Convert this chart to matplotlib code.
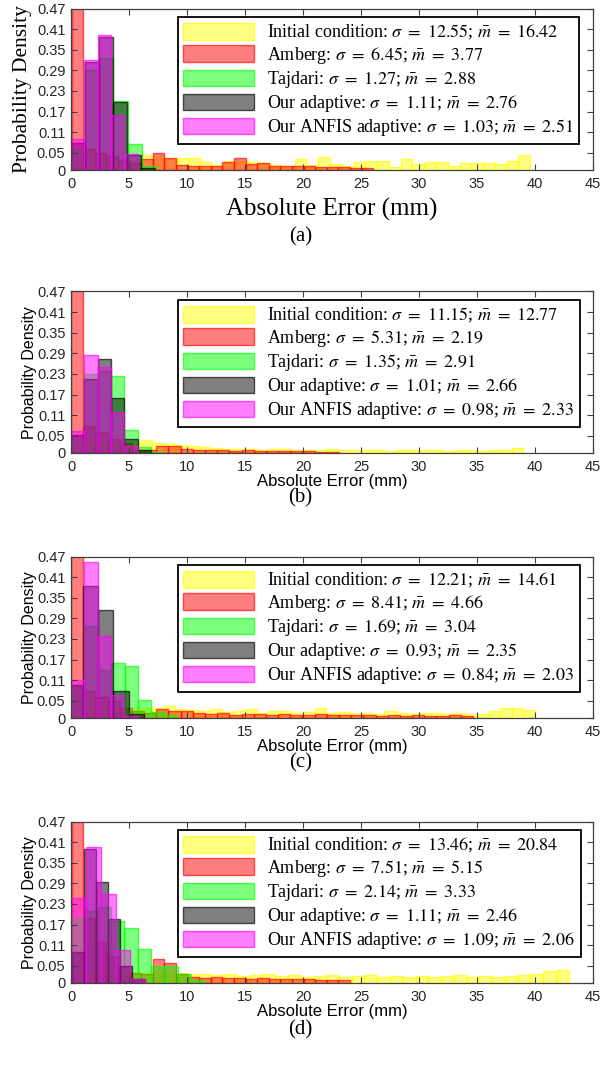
import numpy as np
import matplotlib
matplotlib.use("Agg")
import matplotlib.pyplot as plt

plt.rcParams['mathtext.fontset'] = 'stix'

# series order: Initial (yellow), Amberg (red), Tajdari (green), Our adaptive (black), ANFIS (magenta)
names = ['Initial condition', 'Amberg', 'Tajdari', 'Our adaptive', 'Our ANFIS adaptive']
colors = ['#ffff00', '#ff0000', '#00ff00', '#000000', '#ff00ff']

# sigma / mean per panel
sigmas_a = [12.55, 6.45, 1.27, 1.11, 1.03]
means_a = [16.42, 3.77, 2.88, 2.76, 2.51]
sigmas_b = [11.15, 5.31, 1.35, 1.01, 0.98]
means_b = [12.77, 2.19, 2.91, 2.66, 2.33]
sigmas_c = [12.21, 8.41, 1.69, 0.93, 0.84]
means_c = [14.61, 4.66, 3.04, 2.35, 2.03]
sigmas_d = [13.46, 7.51, 2.14, 1.11, 1.09]
means_d = [20.84, 5.15, 3.33, 2.46, 2.06]

# histogram bins (first edge, bin width) for each series
bins_a = [(0.0, 1.015), (0.05, 1.0), (0.0, 1.22), (0.0, 1.2), (0.0, 1.15)]
bins_b = [(0.0, 1.0), (0.0, 1.05), (0.0, 1.15), (0.0, 1.15), (0.0, 1.15)]
bins_c = [(0.0, 1.0), (0.0, 1.05), (0.1, 1.13), (-0.24, 1.3), (0.0, 1.15)]
bins_d = [(0.0, 1.1), (0.05, 1.0), (0.0, 1.15), (0.05, 1.05), (0.0, 1.28)]

# probability density per bin
yellow_a = [0.02, 0.03, 0.03, 0.03, 0.03, 0.03, 0.044, 0.04, 0.032, 0.035,
            0.034, 0.022, 0.015, 0.027, 0.027, 0.024, 0.019, 0.015, 0.013, 0.032,
            0.015, 0.037, 0.017, 0.013, 0.022, 0.025, 0.025, 0.008, 0.032, 0.017,
            0.022, 0.024, 0.013, 0.019, 0.02, 0.02, 0.017, 0.027, 0.043]
red_a = [0.52, 0.06, 0.05, 0.04, 0.03, 0.02, 0.032, 0.049, 0.035, 0.015,
         0.011, 0.013, 0.011, 0.022, 0.035, 0.017, 0.019, 0.011, 0.013, 0.013,
         0.011, 0.009, 0.009, 0.008, 0.006, 0.006]
green_a = [0.06, 0.29, 0.327, 0.2, 0.075, 0.011]
black_a = [0.08, 0.315, 0.388, 0.199, 0.045, 0.005]
magenta_a = [0.089, 0.32, 0.392, 0.16, 0.046]

yellow_b = [0.02, 0.03, 0.03, 0.03, 0.03, 0.03, 0.037, 0.03, 0.025, 0.022,
            0.02, 0.018, 0.015, 0.013, 0.012, 0.012, 0.01, 0.012, 0.011, 0.01,
            0.009, 0.01, 0.012, 0.01, 0.008, 0.008, 0.009, 0.007, 0.008, 0.01,
            0.009, 0.008, 0.007, 0.009, 0.008, 0.007, 0.008, 0.009, 0.015]
red_b = [0.52, 0.08, 0.06, 0.04, 0.03, 0.01, 0.008, 0.021, 0.019, 0.012,
         0.01, 0.008, 0.009, 0.007, 0.008, 0.006, 0.007, 0.006, 0.005, 0.006,
         0.004, 0.004]
green_b = [0.04, 0.23, 0.24, 0.223, 0.066, 0.017, 0.004]
black_b = [0.053, 0.215, 0.273, 0.16, 0.041, 0.008]
magenta_b = [0.065, 0.286, 0.25, 0.118, 0.019]

yellow_c = [0.03, 0.03, 0.03, 0.03, 0.03, 0.03, 0.03, 0.03, 0.036, 0.025,
            0.022, 0.02, 0.025, 0.018, 0.02, 0.025, 0.015, 0.02, 0.02, 0.015,
            0.018, 0.028, 0.015, 0.018, 0.014, 0.016, 0.012, 0.02, 0.015, 0.013,
            0.015, 0.016, 0.012, 0.014, 0.013, 0.012, 0.02, 0.03, 0.028, 0.022]
red_c = [0.52, 0.08, 0.06, 0.05, 0.03, 0.02, 0.015, 0.026, 0.021, 0.019,
         0.015, 0.012, 0.014, 0.01, 0.012, 0.011, 0.009, 0.012, 0.01, 0.009,
         0.011, 0.008, 0.01, 0.009, 0.008, 0.007, 0.009, 0.006, 0.008, 0.007,
         0.006, 0.008, 0.005]
green_c = [0.09, 0.268, 0.14, 0.16, 0.152, 0.051, 0.017, 0.01]
black_c = [0.097, 0.383, 0.315, 0.078, 0.012]
magenta_c = [0.11, 0.453, 0.24, 0.068, 0.005]

yellow_d = [0.03, 0.03, 0.03, 0.03, 0.03, 0.03, 0.03, 0.03, 0.028, 0.027,
            0.025, 0.022, 0.025, 0.02, 0.022, 0.025, 0.02, 0.022, 0.018, 0.02,
            0.022, 0.018, 0.02, 0.022, 0.018, 0.02, 0.017, 0.02, 0.018, 0.02,
            0.022, 0.018, 0.02, 0.018, 0.02, 0.022, 0.025, 0.035, 0.038]
red_d = [0.52, 0.19, 0.12, 0.08, 0.05, 0.03, 0.025, 0.071, 0.059, 0.027,
         0.018, 0.015, 0.017, 0.014, 0.016, 0.013, 0.015, 0.012, 0.012, 0.011,
         0.012, 0.01, 0.009, 0.008]
green_d = [0.19, 0.21, 0.22, 0.18, 0.161, 0.1, 0.05, 0.05, 0.025, 0.01]
black_d = [0.09, 0.391, 0.294, 0.187, 0.049, 0.011]
magenta_d = [0.247, 0.396, 0.259, 0.096, 0.013]

xticks = [0, 5, 10, 15, 20, 25, 30, 35, 40, 45]
yticks = [0, 0.05, 0.11, 0.17, 0.23, 0.29, 0.35, 0.41, 0.47]
ytick_labels = ['0', '0.05', '0.11', '0.17', '0.23', '0.29', '0.35', '0.41', '0.47']

panels = [
    ('(a)', [yellow_a, red_a, green_a, black_a, magenta_a], bins_a, sigmas_a, means_a, 170, True),
    ('(b)', [yellow_b, red_b, green_b, black_b, magenta_b], bins_b, sigmas_b, means_b, 453, False),
    ('(c)', [yellow_c, red_c, green_c, black_c, magenta_c], bins_c, sigmas_c, means_c, 718, False),
    ('(d)', [yellow_d, red_d, green_d, black_d, magenta_d], bins_d, sigmas_d, means_d, 983, False),
]
caption_y = [237, 498, 763, 1030]

W, H = 601, 1070
fig = plt.figure(figsize=(W / 100, H / 100), dpi=100)
fig.patch.set_facecolor('white')

for k, (tag, series, bins, sig, mu, ybot, serif_labels) in enumerate(panels):
    ax = fig.add_axes([71 / W, 1 - ybot / H, 522 / W, 161.5 / H])
    for vals, (x0, bw), col, name, s, m in zip(series, bins, colors, names, sig, mu):
        edges = x0 + bw * np.arange(len(vals))
        rgb = matplotlib.colors.to_rgb(col)
        ax.bar(edges, vals, width=bw, align='edge',
               facecolor=(*rgb, 0.5), edgecolor=(*rgb, 0.65), linewidth=1.0,
               label=rf'{name}: $\sigma\ =\ {s:.2f}$; $\bar{{m}}\ =\ {m:.2f}$')

    ax.set_xlim(0, 45)
    ax.set_ylim(0, 0.47)
    ax.set_xticks(xticks)
    ax.set_yticks(yticks)
    ax.set_yticklabels(ytick_labels)
    ax.tick_params(direction='in', top=True, right=True, length=4, width=0.8,
                   color='#404040', labelsize=10.5, labelcolor='#262626')
    ax.tick_params(axis='x', pad=5)
    ax.tick_params(axis='y', pad=4)
    for lab in ax.get_xticklabels() + ax.get_yticklabels():
        lab.set_family('Liberation Sans')
    for sp in ax.spines.values():
        sp.set_color('#404040')
        sp.set_linewidth(0.9)

    if serif_labels:
        ax.set_xlabel('Absolute Error (mm)', family='Liberation Serif', fontsize=18)
        ax.set_ylabel('Probability Density', family='Liberation Serif', fontsize=15.5)
        ax.xaxis.set_label_coords(0.5, -0.17)
        ax.yaxis.set_label_coords(-0.075, 0.5)
    else:
        ax.set_xlabel('Absolute Error (mm)', family='Liberation Sans', fontsize=12)
        ax.set_ylabel('Probability Density', family='Liberation Sans', fontsize=11.5)
        ax.xaxis.set_label_coords(0.5, -0.13)
        ax.yaxis.set_label_coords(-0.066, 0.5)

    leg = ax.legend(loc='upper left', bbox_to_anchor=(0.205, 0.945), borderaxespad=0,
                    prop={'family': 'Liberation Serif', 'size': 13.0},
                    handlelength=3.9, handleheight=1.05, labelspacing=0.17,
                    handletextpad=0.75, borderpad=0.3, fancybox=False,
                    framealpha=1, edgecolor='black')
    leg.get_frame().set_linewidth(1.3)

    fig.text(0.5, 1 - caption_y[k] / H, tag, ha='center', va='center',
             family='Liberation Serif', fontsize=15)

fig.savefig('out.png', dpi=100)
